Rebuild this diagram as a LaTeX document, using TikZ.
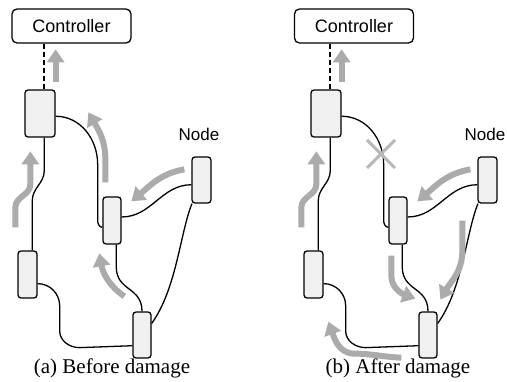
\documentclass[tikz,border=0pt]{standalone}
\usepackage{fontspec}
\setmainfont{Liberation Serif}
\setsansfont{Liberation Sans}
\usetikzlibrary{arrows.meta,calc}

\tikzset{
  dev/.style={draw, line width=1.3pt, fill=gray!12, rounded corners=3pt,
    minimum width=18pt, minimum height=46pt, inner sep=0pt},
  ctrlbox/.style={draw, line width=1.3pt, rounded corners=5pt, minimum width=119pt,
    minimum height=34pt, font=\sffamily\fontsize{18}{18}\selectfont},
  lbl/.style={font=\sffamily\fontsize{17}{17}\selectfont},
  captxt/.style={font=\fontsize{21}{21}\selectfont},
  wire/.style={line width=1.3pt},
  link/.style={line width=2pt, dash pattern=on 5pt off 3pt},
  flow/.style={line width=6pt, draw=black!33, -{Triangle[width=17pt,length=13pt]}},
  cut/.style={line width=3pt, draw=black!28},
}

\begin{document}
\begin{tikzpicture}[x=1pt,y=1pt]
\useasboundingbox (0,0) rectangle (507,-382);

% (a) before damage
\node[ctrlbox] (a-ctrl) at (71.5,-26) {Controller};
\node[dev, minimum width=30pt, minimum height=47pt] (a-top) at (40,-113.5) {};
\node[dev, minimum width=19pt] (a-right) at (201.5,-180) {};
\node[dev, minimum height=47pt] (a-mid) at (112,-220.5) {};
\node[dev, minimum width=19pt, minimum height=47pt] (a-left) at (27.5,-274.5) {};
\node[dev] (a-bot) at (142,-335) {};
\node[lbl] (a-lbl) at (199,-134) {Node};
\node[captxt] (a-cap) at (112,-368) {(a) Before damage};

\draw[link] (a-top.80) -- (a-top.80 |- a-ctrl.south);
\draw[wire] (a-top.-80) -- ++(0,-33) to[out=-90,in=90] ++(-12,-30) -- (a-left.79);
\draw[wire] (a-top.-10) to[out=0,in=90] ++(42,-48) -- ++(0,-56) to[out=-90,in=180] (a-mid.-145);
\draw[wire] (a-mid.20) to[out=0,in=180] (a-right.-155);
\draw[wire] (a-mid.-80) -- ++(0,-22) .. controls +(0,-25) and +(0,25) .. (a-bot.north);
\draw[wire] (a-right.-112) .. controls +(-12,-30) and +(25,35) .. (a-bot.50);
\draw[wire] (a-left.-42) to[out=0,in=90] ++(22,-22) -- ++(0,-25) to[out=-90,in=180] ++(20,-17) -- (a-bot.-132);

\draw[flow] ([shift={(0,7)}]a-top.north east) -- ++(0,33);
\draw[flow] ([shift={(-2,23)}]a-left.north west) -- ++(0,20) to[out=90,in=-90] ++(15,23) -- ++(0,33);
\draw[flow] ([shift={(3,14)}]a-mid.north west) -- ++(0,23) to[out=90,in=-60] ++(-17,47);
\draw[flow] ([shift={(-7,-13)}]a-right.north west) to[out=190,in=40] ++(-53,-32);
\draw[flow] ([shift={(-8,15)}]a-bot.north west) to[out=145,in=-80] ++(-25,43);

% (b) after damage
\begin{scope}[xshift=286pt]
\node[ctrlbox] (b-ctrl) at (68,-26) {Controller};
\node[dev, minimum width=30pt, minimum height=47pt] (b-top) at (40,-113.5) {};
\node[dev, minimum width=19pt] (b-right) at (201.5,-180) {};
\node[dev, minimum height=47pt] (b-mid) at (112,-220.5) {};
\node[dev, minimum width=19pt, minimum height=47pt] (b-left) at (27.5,-274.5) {};
\node[dev] (b-bot) at (142,-335) {};
\node[lbl] (b-lbl) at (199,-134) {Node};
\node[captxt] (b-cap) at (112,-368) {(b) After damage};

\draw[link] (b-top.80) -- (b-top.80 |- b-ctrl.south);
\draw[wire] (b-top.-80) -- ++(0,-33) to[out=-90,in=90] ++(-12,-30) -- (b-left.79);
\draw[wire] (b-top.-10) to[out=0,in=90] ++(42,-48) -- ++(0,-56) to[out=-90,in=180] (b-mid.-145);
\draw[wire] (b-mid.20) to[out=0,in=180] (b-right.-155);
\draw[wire] (b-mid.-80) -- ++(0,-22) .. controls +(0,-25) and +(0,25) .. (b-bot.north);
\draw[wire] (b-right.-112) .. controls +(-12,-30) and +(25,35) .. (b-bot.50);
\draw[wire] (b-left.-42) to[out=0,in=90] ++(22,-22) -- ++(0,-25) to[out=-90,in=180] ++(20,-17) -- (b-bot.-132);

% broken link
\draw[cut] (81,-140) -- (109,-168) (81,-168) -- (109,-140);

\draw[flow] ([shift={(0,7)}]b-top.north east) -- ++(0,33);
\draw[flow] ([shift={(-2,23)}]b-left.north west) -- ++(0,20) to[out=90,in=-90] ++(15,23) -- ++(0,33);
\draw[flow] ([shift={(-7,-13)}]b-right.north west) to[out=190,in=40] ++(-53,-32);
\draw[flow] ([shift={(3,-11)}]b-mid.south west) -- ++(0,-20) to[out=-90,in=160] ++(24,-23);
\draw[flow] ([shift={(-15,-17)}]b-right.south west) -- ++(0,-30) to[out=-90,in=60] ++(-22,-49);
\draw[flow] ([shift={(-17,1)}]b-bot.south west) to[out=178,in=0] ++(-47,4) to[out=180,in=-70] ++(-26,32);
\end{scope}
\end{tikzpicture}
\end{document}
